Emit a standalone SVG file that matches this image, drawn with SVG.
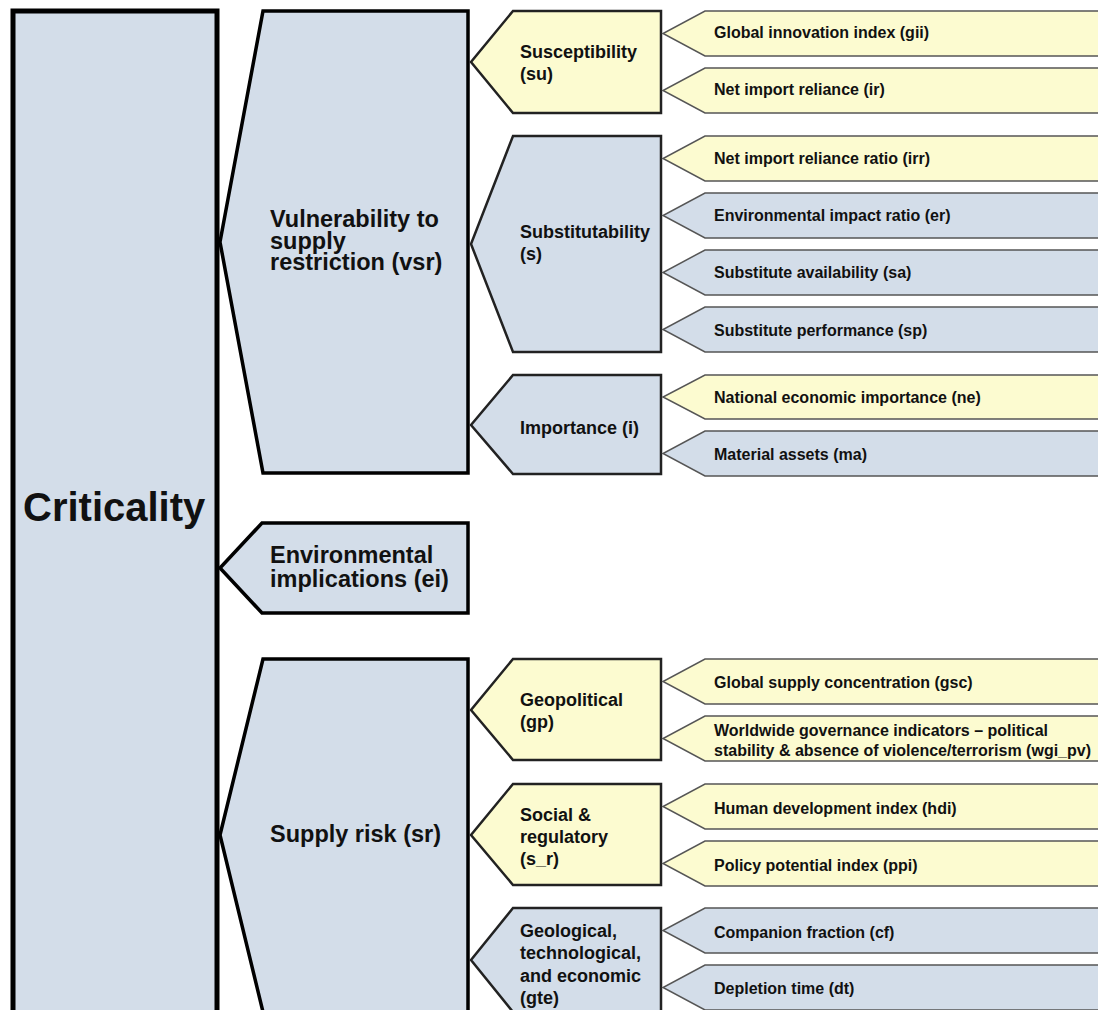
<svg xmlns="http://www.w3.org/2000/svg" width="1098" height="1010" viewBox="0 0 1098 1010">
<style>
.blue{fill:#d3dde9}
.yel{fill:#fcfbd0}
.l0{stroke:#000;stroke-width:5}
.l1{stroke:#000;stroke-width:3.5;stroke-linejoin:miter}
.l2{stroke:#222;stroke-width:2.5}
.l3{stroke:#555;stroke-width:1.5}
text{font-family:"Liberation Sans",Arial,sans-serif;font-weight:bold;fill:#111}
.t0{font-size:40px}
.t1{font-size:23.5px}
.t2{font-size:18px}
.t3{font-size:16px}
</style>
<rect width="1098" height="1010" fill="#fff"/>
<g id="criticality">
<rect x="13" y="11" width="204" height="1010" class="blue l0"/>
<text x="23" y="521" class="t0">Criticality</text>
</g>
<g id="vsr">
<polygon points="263,11 468,11 468,473 263,473 220,242" class="blue l1"/>
<text x="270" y="227" class="t1">Vulnerability to</text>
<text x="270" y="248.5" class="t1">supply</text>
<text x="270" y="270" class="t1">restriction (vsr)</text>
</g>
<g id="ei">
<polygon points="262,523 468,523 468,613 262,613 220,568" class="blue l1"/>
<text x="270" y="563" class="t1">Environmental</text>
<text x="270" y="587" class="t1">implications (ei)</text>
</g>
<g id="sr">
<polygon points="263,659 468,659 468,1012 263,1012 220,835" class="blue l1"/>
<text x="270" y="842" class="t1">Supply risk (sr)</text>
</g>
<g id="su">
<polygon points="513,11 661,11 661,113 513,113 471,62" class="yel l2"/>
<text x="520" y="58" class="t2">Susceptibility</text>
<text x="520" y="80" class="t2">(su)</text>
</g>
<g id="s">
<polygon points="513,136 661,136 661,352 513,352 471,244" class="blue l2"/>
<text x="520" y="238" class="t2">Substitutability</text>
<text x="520" y="260" class="t2">(s)</text>
</g>
<g id="i">
<polygon points="513,375 661,375 661,474 513,474 471,425" class="blue l2"/>
<text x="520" y="434" class="t2">Importance (i)</text>
</g>
<g id="gp">
<polygon points="513,659 661,659 661,760 513,760 471,710" class="yel l2"/>
<text x="520" y="706" class="t2">Geopolitical</text>
<text x="520" y="728" class="t2">(gp)</text>
</g>
<g id="s_r">
<polygon points="513,784 661,784 661,885 513,885 471,835" class="yel l2"/>
<text x="520" y="821" class="t2">Social &amp;</text>
<text x="520" y="843" class="t2">regulatory</text>
<text x="520" y="865" class="t2">(s_r)</text>
</g>
<g id="gte">
<polygon points="513,908 661,908 661,1012 513,1012 471,960" class="blue l2"/>
<text x="520" y="937" class="t2">Geological,</text>
<text x="520" y="959" class="t2">technological,</text>
<text x="520" y="982" class="t2">and economic</text>
<text x="520" y="1004" class="t2">(gte)</text>
</g>
<g id="gii">
<polygon points="705,11 1110,11 1110,56 705,56 663,33.5" class="yel l3"/>
<text x="714" y="38" class="t3">Global innovation index (gii)</text>
</g>
<g id="ir">
<polygon points="705,68 1110,68 1110,113 705,113 663,90.5" class="yel l3"/>
<text x="714" y="95" class="t3">Net import reliance (ir)</text>
</g>
<g id="irr">
<polygon points="705,136 1110,136 1110,181 705,181 663,158.5" class="yel l3"/>
<text x="714" y="164" class="t3">Net import reliance ratio (irr)</text>
</g>
<g id="er">
<polygon points="705,193 1110,193 1110,238 705,238 663,215.5" class="blue l3"/>
<text x="714" y="221" class="t3">Environmental impact ratio (er)</text>
</g>
<g id="sa">
<polygon points="705,250 1110,250 1110,295 705,295 663,272.5" class="blue l3"/>
<text x="714" y="278" class="t3">Substitute availability (sa)</text>
</g>
<g id="sp">
<polygon points="705,307 1110,307 1110,352 705,352 663,329.5" class="blue l3"/>
<text x="714" y="336" class="t3">Substitute performance (sp)</text>
</g>
<g id="ne">
<polygon points="705,375 1110,375 1110,419 705,419 663,397" class="yel l3"/>
<text x="714" y="403" class="t3">National economic importance (ne)</text>
</g>
<g id="ma">
<polygon points="705,431 1110,431 1110,476 705,476 663,453.5" class="blue l3"/>
<text x="714" y="460" class="t3">Material assets (ma)</text>
</g>
<g id="gsc">
<polygon points="705,659 1110,659 1110,704 705,704 663,681.5" class="yel l3"/>
<text x="714" y="688" class="t3">Global supply concentration (gsc)</text>
</g>
<g id="wgi_pv">
<polygon points="705,716 1110,716 1110,761 705,761 663,738.5" class="yel l3"/>
<text x="714" y="736" class="t3">Worldwide governance indicators – political</text>
<text x="714" y="756" class="t3">stability &amp; absence of violence/terrorism (wgi_pv)</text>
</g>
<g id="hdi">
<polygon points="705,784 1110,784 1110,829 705,829 663,806.5" class="yel l3"/>
<text x="714" y="814" class="t3">Human development index (hdi)</text>
</g>
<g id="ppi">
<polygon points="705,841 1110,841 1110,886 705,886 663,863.5" class="yel l3"/>
<text x="714" y="871" class="t3">Policy potential index (ppi)</text>
</g>
<g id="cf">
<polygon points="705,908 1110,908 1110,953 705,953 663,930.5" class="blue l3"/>
<text x="714" y="938" class="t3">Companion fraction (cf)</text>
</g>
<g id="dt">
<polygon points="705,965 1110,965 1110,1010 705,1010 663,987.5" class="blue l3"/>
<text x="714" y="994" class="t3">Depletion time (dt)</text>
</g>
<g id="connectors"/>
</svg>
